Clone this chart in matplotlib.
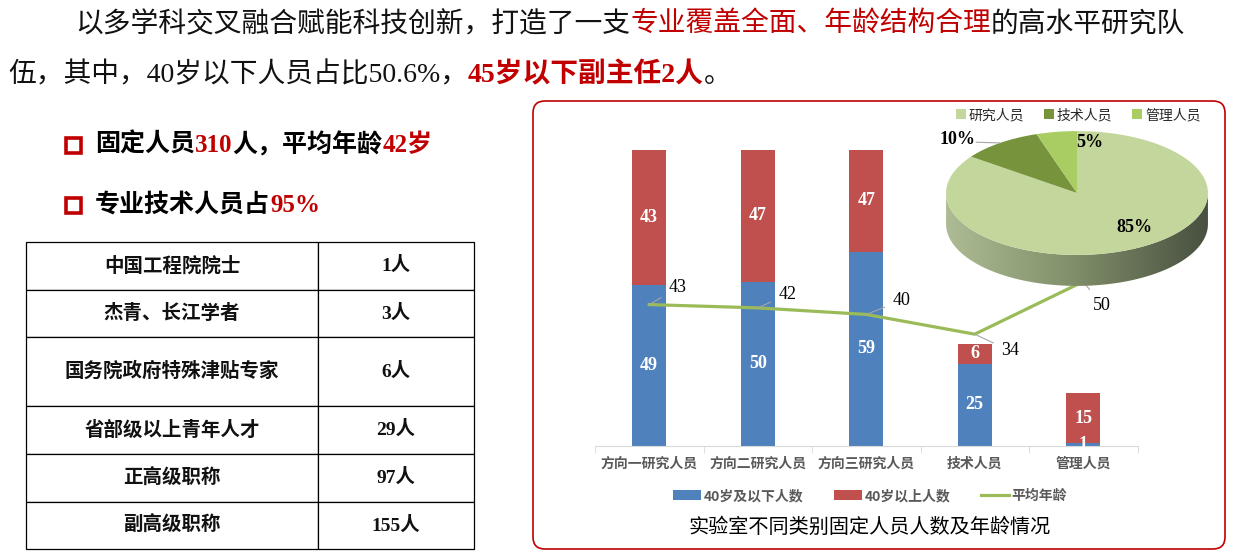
import numpy as np
import matplotlib
matplotlib.use('Agg')
import matplotlib.pyplot as plt
from matplotlib.patches import Rectangle, FancyBboxPatch, Polygon
from matplotlib.colors import LinearSegmentedColormap

W, H = 1233, 559
CJK = 'Noto Sans CJK SC'
MIX = ['Liberation Serif', CJK]
RED = '#C00000'

# ---- data ----
categories = ['方向一研究人员', '方向二研究人员', '方向三研究人员', '技术人员', '管理人员']
under40 = [49, 50, 59, 25, 1]
over40 = [43, 47, 47, 6, 15]
avg_age = [43, 42, 40, 34, 50]

pie_labels = ['研究人员', '技术人员', '管理人员']
pie_share = [85, 10, 5]

table_items = ['中国工程院院士', '杰青、长江学者', '国务院政府特殊津贴专家',
               '省部级以上青年人才', '正高级职称', '副高级职称']
table_counts = ['1人', '3人', '6人', '29人', '97人', '155人']


def box(l, t, r, b):
    # pixel box -> figure fraction
    return [l / W, 1 - b / H, (r - l) / W, (b - t) / H]


fig = plt.figure(figsize=(W / 100, H / 100), dpi=100)
renderer = fig.canvas.get_renderer()

# background axes in pixel coordinates
bg = fig.add_axes([0, 0, 1, 1])
bg.set_xlim(0, W)
bg.set_ylim(H, 0)
bg.axis('off')


def rich(x, y, parts, size):
    for s, color, weight in parts:
        t = bg.text(x, y, s, fontsize=size, color=color, fontweight=weight,
                    family=MIX, ha='left', va='center')
        x += t.get_window_extent(renderer).width


rich(75, 25, [('以多学科交叉融合赋能科技创新，打造了一支', '#111111', 'normal'),
              ('专业覆盖全面、年龄结构合理', RED, 'normal'),
              ('的高水平研究队', '#111111', 'normal')], 20)
rich(8, 75, [('伍，其中，40岁以下人员占比50.6%，', '#111111', 'normal'),
             ('45岁以下副主任2人', RED, 'bold'),
             ('。', '#111111', 'normal')], 20)

for y, parts in [(145, [('固定人员', '#000000', 'bold'), ('310', RED, 'bold'),
                        ('人，平均年龄', '#000000', 'bold'), ('42岁', RED, 'bold')]),
                 (205, [('专业技术人员占', '#000000', 'bold'), ('95%', RED, 'bold')])]:
    bg.add_patch(Rectangle((66, y - 7.5), 15, 15, fill=False, ec=RED, lw=2.6))
    rich(95, y, parts, 18)

# chart frame
bg.add_patch(FancyBboxPatch((533, 101), 692, 448, boxstyle='round,pad=0,rounding_size=12',
                            ec=RED, fc='none', lw=1.2))
bg.text(870, 527, '实验室不同类别固定人员人数及年龄情况', ha='center', va='center',
        fontsize=14.5, family=CJK, color='#000000')

# ---- table ----
ax_t = fig.add_axes(box(26, 242, 474, 549))
ax_t.axis('off')
tbl = ax_t.table(cellText=[[a, b] for a, b in zip(table_items, table_counts)],
                 cellLoc='center', colWidths=[292 / 448, 156 / 448], bbox=[0, 0, 1, 1])
tbl.auto_set_font_size(False)
row_h = [48, 47, 69, 48, 48, 47]
for (r, c), cell in tbl.get_celld().items():
    cell.set_height(row_h[r])
    cell.set_edgecolor('#000000')
    cell.set_linewidth(0.9)
    txt = cell.get_text()
    txt.set_fontsize(14)
    txt.set_fontweight('bold')
    txt.set_fontfamily(MIX)
    txt.set_color('#111111')

# ---- stacked bars + average age line ----
ax = fig.add_axes(box(595, 150, 1137.5, 446))
ax.patch.set_alpha(0)
x = np.arange(len(categories))
b1 = ax.bar(x, under40, width=0.31, color='#4F81BD', label='40岁及以下人数', zorder=2)
b2 = ax.bar(x, over40, width=0.31, bottom=under40, color='#C0504D', label='40岁以上人数', zorder=2)
ln, = ax.plot(x, avg_age, color='#9BBB59', lw=2.3, label='平均年龄', zorder=3)
ax.set_xlim(-0.5, 4.5)
ax.set_ylim(0, 90)
for s in ['top', 'left', 'right']:
    ax.spines[s].set_visible(False)
ax.spines['bottom'].set_color('#D9D9D9')
ax.set_yticks([])
ax.set_xticks(x)
ax.set_xticklabels(categories, fontfamily=CJK, fontsize=10, color='#595959', fontweight='bold')
ax.tick_params(axis='x', which='major', length=0, pad=8)
ax.set_xticks(np.arange(-0.5, 5, 1), minor=True)
ax.tick_params(axis='x', which='minor', length=5, color='#D9D9D9')

for bars in (b1, b2):
    ax.bar_label(bars, label_type='center', color='white', fontsize=13,
                 fontweight='bold', fontfamily='Liberation Serif')

offsets = [(14, 12), (15, 9.5), (19, 10), (19, -12), (7, -17)]
for i, (v, off) in enumerate(zip(avg_age, offsets)):
    ax.annotate(str(v), xy=(i, v), xytext=off, textcoords='offset points',
                ha='left', va='center', fontsize=13, family='Liberation Serif',
                arrowprops=dict(arrowstyle='-', color='#A6A6A6', lw=0.8,
                                shrinkA=4, shrinkB=0), zorder=4)

ax.legend(handles=[b1, b2, ln], loc='center', bbox_to_anchor=(870 / W, 1 - 496 / H),
          bbox_transform=fig.transFigure, ncol=3, frameon=False,
          prop=dict(family=CJK, size=10, weight='bold'), labelcolor='#595959',
          handlelength=2.0, handleheight=0.7, handletextpad=0.2, columnspacing=2.2)

# ---- 3D-looking pie ----
ax_p = fig.add_axes(box(939.5, 128, 1214.5, 289))
wedges, _, autotexts = ax_p.pie(pie_share, colors=['#C3D69B', '#77933C', '#A9CD63'],
                                startangle=90, counterclock=False, radius=1,
                                autopct=lambda p: f'{p:.0f}%',
                                wedgeprops=dict(linewidth=0),
                                textprops=dict(fontsize=13, fontweight='bold',
                                               family='Liberation Serif', color='#000000'))
ax_p.set_aspect('auto')

depth = 0.5
t = np.linspace(np.pi, 2 * np.pi, 200)
side = np.vstack([np.column_stack([np.cos(t), np.sin(t)]),
                  np.column_stack([np.cos(t[::-1]), np.sin(t[::-1]) - depth])])
poly = Polygon(side, closed=True, fc='none', ec='none')
ax_p.add_patch(poly)
cmap = LinearSegmentedColormap.from_list('side', ['#AEBC95', '#7F8D68', '#485040'])
grad = ax_p.imshow(np.linspace(0, 1, 256)[None, :], extent=[-1, 1, -1 - depth, 0],
                   cmap=cmap, aspect='auto', zorder=0)
grad.set_clip_path(poly)
ax_p.set_xlim(-1.05, 1.05)
ax_p.set_ylim(-1 - depth - 0.05, 1.05)

autotexts[0].set_position((0.44, -0.56))
autotexts[1].set_position((-0.91, 0.87))
autotexts[2].set_position((0.10, 0.81))
mid = np.deg2rad((wedges[1].theta1 + wedges[1].theta2) / 2)
ax_p.annotate('', xy=(np.cos(mid), np.sin(mid)), xytext=(-0.77, 0.82),
              arrowprops=dict(arrowstyle='-', color='#A6A6A6', lw=0.8, shrinkA=0, shrinkB=0))

ax_p.legend(wedges, pie_labels, loc='center', bbox_to_anchor=(1078 / W, 1 - 115 / H),
            bbox_transform=fig.transFigure, ncol=3, frameon=False,
            prop=dict(family=CJK, size=10), labelcolor='#262626',
            handlelength=0.75, handleheight=0.75, handletextpad=0.2, columnspacing=1.4)

fig.savefig('out.png', dpi=100)
